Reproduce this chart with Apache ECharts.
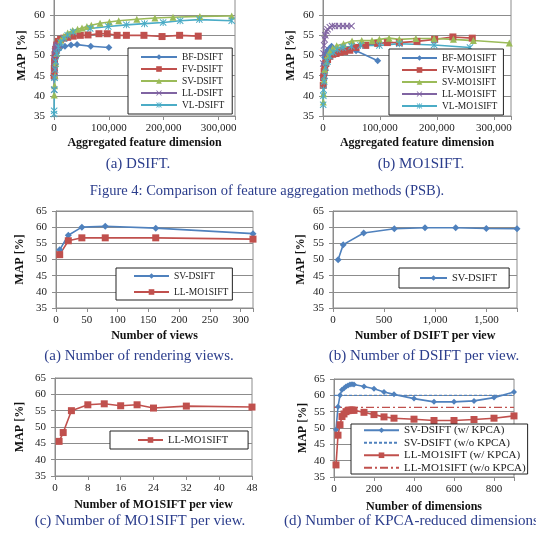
<!DOCTYPE html>
<html>
<head>
<meta charset="utf-8">
<script src="https://cdn.jsdelivr.net/npm/echarts@6/dist/echarts.min.js"></script>
<style>
  html, body { margin: 0; padding: 0; background: #fff; }
  #chart { width: 536px; height: 540px; }
</style>
</head>
<body>
<div id="chart"></div>
<script>
  // ---- 4(a) DSIFT ----
  const bfDsiftX = [500, 1000, 2000, 3000, 5000, 8000, 12000, 20000, 31000, 42000, 67000, 100000]
  const bfDsiftY = [44.5, 46.2, 48.0, 49.5, 50.6, 51.4, 52.0, 52.3, 52.6, 52.7, 52.3, 52.0]
  const fvDsiftX = [300, 600, 1000, 2000, 3000, 5000, 8000, 12000, 18000, 25000, 35000, 48000, 62000, 82000, 97000, 115000, 132000, 164000, 197000, 229000, 263000]
  const fvDsiftY = [45.0, 46.8, 48.5, 50.2, 51.5, 52.6, 53.5, 54.0, 54.3, 54.5, 54.8, 55.0, 55.1, 55.4, 55.4, 55.0, 55.0, 55.0, 54.7, 55.0, 54.8]
  const svDsiftX = [500, 1000, 2000, 3000, 5000, 8000, 12000, 18000, 25000, 34000, 43000, 51000, 60000, 68000, 84000, 101000, 118000, 151000, 184000, 217000, 266000, 324000]
  const svDsiftY = [40.2, 42.5, 45.0, 48.0, 50.5, 52.5, 53.8, 54.8, 55.6, 56.2, 56.5, 56.8, 57.2, 57.5, 58.0, 58.3, 58.6, 59.0, 59.3, 59.5, 59.7, 59.8]
  const llDsiftX = [300, 500, 800, 1200, 1600, 2000, 3000, 4000, 5000, 6500, 8000]
  const llDsiftY = [41.5, 44.6, 47.0, 49.0, 50.2, 51.0, 51.6, 52.0, 52.3, 52.5, 52.6]
  const vlDsiftX = [100, 300, 600, 1000, 2000, 3000, 5000, 8000, 12000, 18000, 25000, 35000, 66000, 99000, 132000, 165000, 199000, 230000, 265000, 324000]
  const vlDsiftY = [35.5, 36.3, 41.5, 44.5, 46.5, 48.5, 50.5, 52.0, 53.2, 54.2, 55.0, 55.8, 56.7, 57.2, 57.6, 57.9, 58.2, 58.6, 58.9, 58.6]

  // ---- 4(b) MO1SIFT ----
  const bfMo1X = [500, 1000, 2000, 3000, 5000, 8000, 12000, 15000, 58000, 96000]
  const bfMo1Y = [43.0, 45.5, 48.0, 49.5, 50.5, 51.3, 51.8, 52.3, 51.2, 48.7]
  const fvMo1X = [500, 1000, 2000, 3000, 5000, 8000, 12000, 17000, 23000, 30000, 38000, 47000, 58000, 75000, 96000, 113000, 134000, 165000, 196000, 228000, 262000]
  const fvMo1Y = [42.6, 44.5, 46.0, 47.0, 48.0, 49.0, 49.8, 50.3, 50.5, 50.8, 51.0, 51.3, 52.0, 52.5, 53.0, 53.2, 53.2, 53.5, 54.0, 54.6, 54.3]
  const svMo1X = [500, 1000, 2000, 3000, 5000, 8000, 12000, 17000, 24000, 36000, 51000, 68000, 86000, 99000, 116000, 134000, 163000, 195000, 229000, 264000, 327000]
  const svMo1Y = [38.5, 40.5, 44.0, 46.5, 48.5, 50.0, 51.0, 51.8, 52.4, 52.9, 53.6, 53.7, 53.7, 54.0, 54.3, 54.0, 54.2, 54.2, 54.0, 53.7, 53.1]
  const llMo1X = [500, 1000, 2000, 3000, 4000, 6000, 8000, 12000, 16000, 21000, 28000, 35000, 42000, 50000]
  const llMo1Y = [48.0, 50.5, 52.5, 54.0, 55.0, 56.0, 56.5, 57.0, 57.3, 57.3, 57.3, 57.3, 57.3, 57.3]
  const vlMo1X = [300, 600, 1000, 2000, 3000, 5000, 8000, 12000, 18000, 25000, 35000, 50000, 66000, 99000, 134000, 195000, 258000]
  const vlMo1Y = [37.8, 40.0, 41.5, 43.5, 45.0, 47.0, 48.5, 49.8, 50.8, 51.5, 52.0, 52.3, 52.5, 52.5, 52.9, 52.6, 52.0]

  // ---- 5(a) number of views ----
  const viewsX = [6, 20, 42, 80, 162, 320]
  const viewsSvY = [53.0, 57.5, 60.0, 60.3, 59.7, 58.0]
  const viewsLlY = [51.5, 55.8, 56.7, 56.7, 56.7, 56.3]

  // ---- 5(b) DSIFT per view ----
  const dsiftX = [50, 100, 300, 600, 900, 1200, 1500, 1800]
  const dsiftY = [49.9, 54.6, 58.2, 59.5, 59.8, 59.8, 59.6, 59.5]

  // ---- 5(c) MO1SIFT per view ----
  const mo1X = [1, 2, 4, 8, 12, 16, 20, 24, 32, 48]
  const mo1Y = [45.6, 48.3, 55.0, 56.8, 57.1, 56.5, 56.8, 55.8, 56.4, 56.1]

  // ---- 5(d) KPCA dims ----
  const kpcaX = [10, 20, 30, 40, 50, 60, 70, 80, 90, 100, 150, 200, 250, 300, 400, 500, 600, 700, 800, 900]
  const kpcaSvY = [49.5, 56.5, 60.0, 61.7, 62.2, 62.7, 63.0, 63.3, 63.4, 63.3, 62.7, 62.0, 61.0, 60.3, 59.0, 58.0, 58.0, 58.3, 59.3, 61.0]
  const kpcaLlY = [38.7, 47.8, 51.0, 53.5, 54.3, 55.0, 55.3, 55.5, 55.5, 55.4, 54.8, 54.1, 53.4, 53.0, 52.7, 52.3, 52.3, 52.6, 53.0, 53.7]
  const noKpcaX = [0, 900]
  const noKpcaSvY = [60.0, 60.0]
  const noKpcaLlY = [56.3, 56.3]

  // 颜色 (Excel 默认)
  const BLUE = '#4f81bd', RED = '#c0504d', GREEN = '#9bbb59', PURPLE = '#8064a2', AQUA = '#4bacc6'
  const SERIF = '"Liberation Serif", "Times New Roman", serif'
  const NAVY = '#2b3d8c'
  const CROSS = 'path://M0,1L1,0L5,4L9,0L10,1L6,5L10,9L9,10L5,6L1,10L0,9L4,5Z'
  const STAR = 'path://M0,1L1,0L5,4L9,0L10,1L6,5L10,9L9,10L5,6L1,10L0,9L4,5Z M4.3,0L5.7,0L5.7,10L4.3,10Z'

  const zip = (xs, ys) => xs.map((x, i) => [x, ys[i]])

  // 六个子图的位置
  const grids = [
    { left: 54, top: -5, width: 181, height: 121 },
    { left: 323, top: -5, width: 188, height: 121 },
    { left: 56, top: 211, width: 197, height: 97 },
    { left: 333, top: 211, width: 184, height: 97 },
    { left: 55, top: 378, width: 197, height: 98 },
    { left: 334, top: 379, width: 180, height: 98 }
  ].map(g => Object.assign({ show: true, borderColor: '#8c8c8c', borderWidth: 1, backgroundColor: '#fff', outerBoundsMode: 'none', containLabel: false }, g))

  const commaFmt = step => v => (v % step === 0 ? v.toLocaleString('en-US') : '')

  function xAxis(i, max, interval, name, fmt, gap) {
    return {
      type: 'value', gridIndex: i, min: 0, max: max, interval: interval,
      name: name, nameLocation: 'middle', nameGap: gap,
      nameTextStyle: { fontFamily: SERIF, fontWeight: 'bold', fontSize: 12, color: '#111' },
      axisLine: { show: true, onZero: false, lineStyle: { color: '#8c8c8c' } },
      axisTick: { show: true, length: 4, lineStyle: { color: '#8c8c8c' } },
      splitLine: { show: false },
      axisLabel: { fontFamily: SERIF, fontSize: 11, color: '#222', margin: 7, formatter: fmt }
    }
  }

  function yAxis(i, gap) {
    return {
      type: 'value', gridIndex: i, min: 35, max: 65, interval: 5,
      name: 'MAP [%]', nameLocation: 'middle', nameGap: gap, nameRotate: 90,
      nameTextStyle: { fontFamily: SERIF, fontWeight: 'bold', fontSize: 12, color: '#111' },
      axisLine: { show: true, lineStyle: { color: '#8c8c8c' } },
      axisTick: { show: true, length: 4, lineStyle: { color: '#8c8c8c' } },
      splitLine: { show: true, lineStyle: { color: '#8c8c8c', width: 1 } },
      axisLabel: { fontFamily: SERIF, fontSize: 11, color: '#222', margin: 9 }
    }
  }

  function line(name, i, xs, ys, color, symbol, size, extra) {
    return Object.assign({
      name: name, type: 'line', xAxisIndex: i, yAxisIndex: i,
      data: zip(xs, ys), symbol: symbol, symbolSize: size,
      showSymbol: true, silent: true,
      lineStyle: { color: color, width: 1.6 },
      itemStyle: { color: color, borderWidth: 0 }
    }, extra || {})
  }

  // 图例名加后缀以区分不同子图中的同名系列
  function legend(names, left, top, fontSize, itemWidth, lineH, padding) {
    return {
      data: names, orient: 'vertical', left: left, top: top,
      selectedMode: false, backgroundColor: '#fff',
      borderColor: '#222', borderWidth: 1, padding: padding,
      itemWidth: itemWidth, itemHeight: 7, itemGap: 0,
      textStyle: { fontFamily: SERIF, fontSize: fontSize, color: '#222', lineHeight: lineH, height: lineH },
      formatter: n => n.split('|')[0]
    }
  }

  const series = [
    line('BF-DSIFT|a', 0, bfDsiftX, bfDsiftY, BLUE, 'diamond', 7),
    line('FV-DSIFT|a', 0, fvDsiftX, fvDsiftY, RED, 'rect', 7),
    line('SV-DSIFT|a', 0, svDsiftX, svDsiftY, GREEN, 'triangle', 7),
    line('LL-DSIFT|a', 0, llDsiftX, llDsiftY, PURPLE, CROSS, 7),
    line('VL-DSIFT|a', 0, vlDsiftX, vlDsiftY, AQUA, STAR, 7),

    line('BF-MO1SIFT|b', 1, bfMo1X, bfMo1Y, BLUE, 'diamond', 7),
    line('FV-MO1SIFT|b', 1, fvMo1X, fvMo1Y, RED, 'rect', 7),
    line('SV-MO1SIFT|b', 1, svMo1X, svMo1Y, GREEN, 'triangle', 7),
    line('LL-MO1SIFT|b', 1, llMo1X, llMo1Y, PURPLE, CROSS, 7),
    line('VL-MO1SIFT|b', 1, vlMo1X, vlMo1Y, AQUA, STAR, 7),

    line('SV-DSIFT|c', 2, viewsX, viewsSvY, BLUE, 'diamond', 7),
    line('LL-MO1SIFT|c', 2, viewsX, viewsLlY, RED, 'rect', 7),

    line('SV-DSIFT|d', 3, dsiftX, dsiftY, BLUE, 'diamond', 7),

    line('LL-MO1SIFT|e', 4, mo1X, mo1Y, RED, 'rect', 7),

    line('SV-DSIFT (w/ KPCA)', 5, kpcaX, kpcaSvY, BLUE, 'diamond', 6),
    line('SV-DSIFT (w/o KPCA)', 5, noKpcaX, noKpcaSvY, BLUE, 'none', 0,
      { lineStyle: { color: BLUE, width: 1.2, type: [3, 2] } }),
    line('LL-MO1SIFT (w/ KPCA)', 5, kpcaX, kpcaLlY, RED, 'rect', 7),
    line('LL-MO1SIFT (w/o KPCA)', 5, noKpcaX, noKpcaLlY, RED, 'none', 0,
      { lineStyle: { color: RED, width: 1.2, type: [8, 3, 2, 3] } })
  ]

  const caption = (text, x, y, align, size) => ({
    text: text, left: x, top: y, textAlign: align, padding: 0,
    textStyle: { fontFamily: SERIF, fontWeight: 'normal', fontSize: size || 15, color: NAVY }
  })

  // 无标记的图例项：隐藏符号，只留线
  const lineOnly = name => ({ name: name, itemStyle: { opacity: 0 } })

  const chart = echarts.init(document.getElementById('chart'), null, { renderer: 'canvas' })
  const option = {
    animation: false,
    backgroundColor: '#fff',
    grid: grids,
    xAxis: [
      xAxis(0, 330000, 100000, 'Aggregated feature dimension', commaFmt(100000), 21),
      xAxis(1, 330000, 100000, 'Aggregated feature dimension', commaFmt(100000), 21),
      xAxis(2, 320, 50, 'Number of views', v => (v % 50 === 0 ? v : ''), 22),
      xAxis(3, 1800, 500, 'Number of DSIFT per view', commaFmt(500), 22),
      xAxis(4, 48, 8, 'Number of MO1SIFT per view', v => v, 23),
      xAxis(5, 900, 200, 'Number of dimensions', v => (v % 200 === 0 ? v : ''), 24)
    ],
    yAxis: [yAxis(0, 26), yAxis(1, 26), yAxis(2, 30), yAxis(3, 26), yAxis(4, 29), yAxis(5, 25)],
    legend: [
      legend(['BF-DSIFT|a', 'FV-DSIFT|a', 'SV-DSIFT|a', 'LL-DSIFT|a', 'VL-DSIFT|a'], 128, 48, 9.5, 36, 12, [3, 8, 3, 12]),
      legend(['BF-MO1SIFT|b', 'FV-MO1SIFT|b', 'SV-MO1SIFT|b', 'LL-MO1SIFT|b', 'VL-MO1SIFT|b'], 389, 49, 9.5, 35, 12, [3, 6, 3, 12]),
      legend(['SV-DSIFT|c', 'LL-MO1SIFT|c'], 116, 268, 9.5, 35, 16, [0, 4, 0, 17]),
      legend(['SV-DSIFT|d'], 399, 268, 10.5, 27, 18, [1, 12, 1, 20]),
      legend(['LL-MO1SIFT|e'], 110, 431, 10.5, 25, 16, [1, 20, 1, 27]),
      legend(['SV-DSIFT (w/ KPCA)', lineOnly('SV-DSIFT (w/o KPCA)'), 'LL-MO1SIFT (w/ KPCA)', lineOnly('LL-MO1SIFT (w/o KPCA)')], 351, 424, 11, 35, 12.5, [0, 2, 0, 12])
    ],
    title: [
      caption('(a) DSIFT.', 138, 157, 'center'),
      caption('(b) MO1SIFT.', 421, 157, 'center'),
      caption('Figure 4: Comparison of feature aggregation methods (PSB).', 267, 184, 'center', 14.5),
      caption('(a) Number of rendering views.', 139, 349, 'center'),
      caption('(b) Number of DSIFT per view.', 424, 349, 'center'),
      caption('(c) Number of MO1SIFT per view.', 140, 514, 'center'),
      caption('(d) Number of KPCA-reduced dimensions', 284, 514, 'left')
    ],
    series: series
  }
  window.onresize = chart.resize
  chart.setOption(option, true)
</script>
</body>
</html>
